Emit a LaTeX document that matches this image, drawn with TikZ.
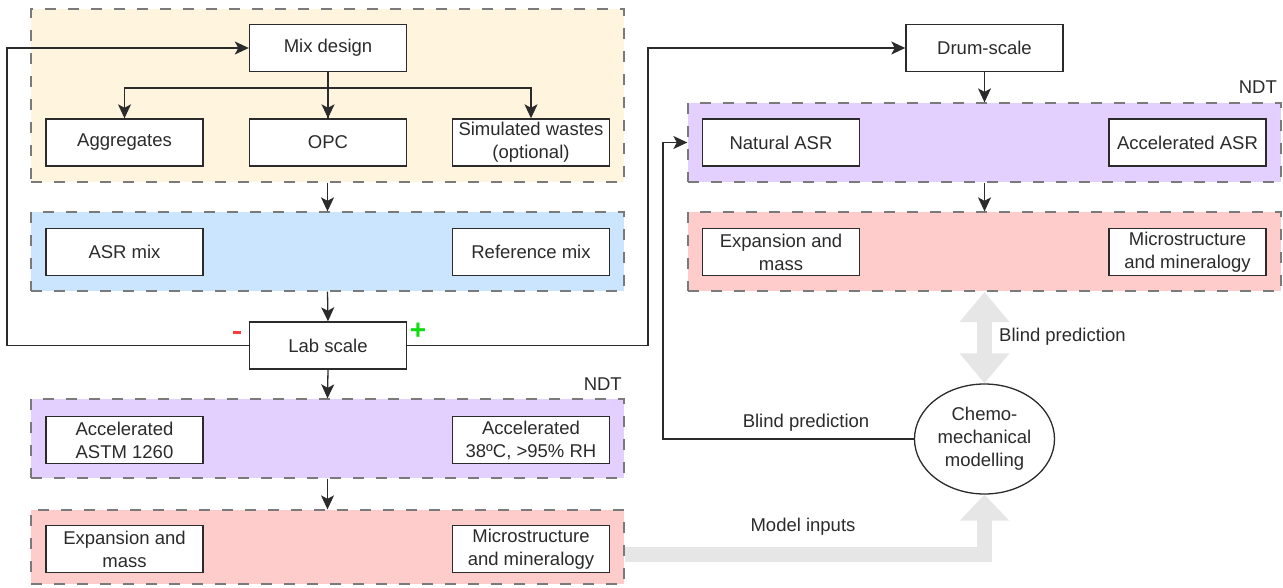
\documentclass[tikz,border=0pt]{standalone}
\usepackage{fontspec}
\setmainfont{Liberation Sans}
\usetikzlibrary{arrows.meta,shapes.geometric}
\definecolor{panelyellow}{HTML}{FFF4DD}
\definecolor{panelblue}{HTML}{CCE5FF}
\definecolor{panelpurple}{HTML}{E3D0FF}
\definecolor{panelred}{HTML}{FFCCCC}
\definecolor{dashgray}{HTML}{7A7A7A}
\definecolor{linegray}{HTML}{2B2B2B}
\definecolor{bigarrow}{HTML}{E6E6E6}
\definecolor{minusred}{HTML}{FF3B3B}
\definecolor{plusgreen}{HTML}{11DD11}
\tikzset{
  panel/.style={draw=dashgray, line width=1.3pt, dash pattern=on 11pt off 12pt,
    rectangle, inner sep=0pt},
  txt/.style={font=\fontsize{18.5}{23}\selectfont, text=linegray},
  stepbox/.style={draw=linegray, fill=white, line width=1.4pt, rectangle,
    minimum width=157pt, minimum height=47pt, inner sep=1pt, align=center, txt},
  plain/.style={txt, inner sep=0pt},
  link/.style={draw=linegray, line width=1.3pt},
  arr/.style={link, -{Stealth[length=14pt,width=13pt,inset=3.5pt]}},
  grayflow/.style={draw=bigarrow, line width=15pt, line join=miter},
}
\begin{document}
\begin{tikzpicture}[x=1pt,y=-1pt]
\useasboundingbox (0,0) rectangle (1283,587);

% ---------- background panels ----------
\node[panel, fill=panelyellow, minimum width=593pt, minimum height=173pt] (pyel) at (327.5,95.5) {};
\node[panel, fill=panelblue,   minimum width=593pt, minimum height=79pt]  (pblu) at (327.5,251.5) {};
\node[panel, fill=panelpurple, minimum width=593pt, minimum height=79pt]  (ppur) at (327.5,438.5) {};
\node[panel, fill=panelred,    minimum width=593pt, minimum height=74pt]  (pred) at (327.5,547) {};
\node[panel, fill=panelpurple, minimum width=593pt, minimum height=79pt]  (qpur) at (984.5,142.5) {};
\node[panel, fill=panelred,    minimum width=593pt, minimum height=79pt]  (qred) at (984.5,251.5) {};

% ---------- lab-scale column ----------
\node[stepbox] (mix)  at (328,48)    {Mix design};
\node[stepbox] (agg)  at (124.5,142.5) {Aggregates};
\node[stepbox] (opc)  at (328,142.5) {OPC};
\node[stepbox] (sim)  at (531,142.5) {Simulated wastes\\(optional)};
\node[stepbox] (asr)  at (124.5,252) {ASR mix};
\node[stepbox] (ref)  at (531,252)   {Reference mix};
\node[stepbox] (lab)  at (328,345.5) {Lab scale};
\node[stepbox] (astm) at (124.5,440) {Accelerated\\ASTM 1260};
\node[stepbox] (acc38) at (531,440)  {Accelerated\\38ºC, >95\% RH};
\node[stepbox] (exp1) at (124.5,549) {Expansion and\\mass};
\node[stepbox] (mic1) at (531,549)   {Microstructure\\and mineralogy};
\node[plain, anchor=east] (ndt1) at (622,384) {NDT};

% ---------- drum-scale column ----------
\node[stepbox] (drum) at (984.5,48)   {Drum-scale};
\node[stepbox] (nat)  at (781,142.5)  {Natural ASR};
\node[stepbox] (accd) at (1187.5,142.5) {Accelerated ASR};
\node[stepbox] (exp2) at (781,252)    {Expansion and\\mass};
\node[stepbox] (mic2) at (1187.5,252) {Microstructure\\and mineralogy};
\node[plain, anchor=east] (ndt2) at (1277,87) {NDT};

% ---------- modelling ----------
\node[ellipse, draw=linegray, fill=white, line width=1.3pt, minimum width=140pt,
      minimum height=110pt, inner sep=0pt, align=center, txt] (model) at (984.5,439)
      {Chemo-\\mechanical\\modelling};

% ---------- sign markers on the lab-scale box ----------
\fill[minusred] (233,330.5) rectangle (241,334);
\node[inner sep=0pt, text=plusgreen, font=\fontsize{28}{28}\selectfont\bfseries] (plus) at (418,331) {+};

% ---------- connectors ----------
\draw[link] (mix.south) -- (opc.north);
\draw[arr] (328,88) -| (agg.north);
\draw[arr] (328,88) -- (opc.north);
\draw[arr] (328,88) -| (sim.north);
\draw[arr] (pyel.south) -- (pblu.north);
\draw[arr] (pblu.south) -- (lab.north);
\draw[arr] (lab.south) -- (ppur.north);
\draw[arr] (ppur.south) -- (pred.north);
\draw[arr] (drum.south) -- (qpur.north);
\draw[arr] (qpur.south) -- (qred.north);

% feedback loops leaving the lab-scale box
\coordinate (loopL) at (7,345.5);
\coordinate (loopR) at (648,345.5);
\draw[arr] (lab.west) -- (loopL) |- (mix.west);
\draw[arr] (lab.east) -- (loopR) |- (drum.west);

% blind prediction to drum-scale tests
\coordinate (bpc) at (663,439);
\draw[arr] (model.west) -- (bpc) |- (qpur.west);
\node[plain] (bp1) at (806,423) {Blind prediction};

% wide grey arrows
\draw[grayflow, {Triangle[length=30pt,width=48pt]}-{Triangle[length=30pt,width=48pt]}]
  (984.5,292) -- (model.north);
\node[plain, anchor=west] (bp2) at (999,337) {Blind prediction};
\coordinate (mi) at (624.7,554);
\draw[grayflow, -{Triangle[length=26pt,width=48pt]}] (mi) -- (984.5,554) -- (model.south);
\node[plain] (minp) at (803,527) {Model inputs};
\end{tikzpicture}
\end{document}
